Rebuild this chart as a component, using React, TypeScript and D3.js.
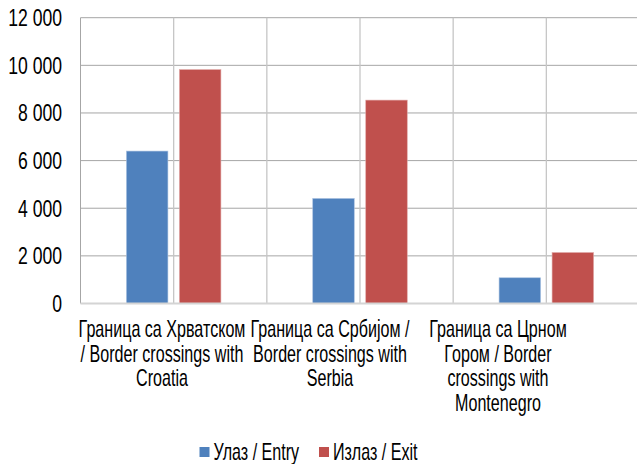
import React, { useEffect, useRef } from "react";
import * as d3 from "d3";

const categories = ["croatia", "serbia", "montenegro"];
const categoryLines = [
    ["Граница са Хрватском", "/ Border crossings with", "Croatia"],
    ["Граница са Србијом /", "Border crossings with", "Serbia"],
    ["Граница са Црном", "Гором / Border", "crossings with", "Montenegro"],
];
const entryValues = [6400, 4410, 1080];
const exitValues = [9820, 8540, 2140];
const seriesNames = ["Улаз / Entry", "Излаз / Exit"];
const seriesColors = ["#4f81bd", "#c0504d"];
const yTicks = [0, 2000, 4000, 6000, 8000, 10000, 12000];

// no narrow font installed, so squeeze Liberation Sans like Arial Narrow
const FONT = "'Liberation Sans', Arial, sans-serif";
const NARROW = 0.7;
const NARROW_NUM = 0.765;
const FS = 23;

const formatTick = (n: number): string => n.toString().replace(/\B(?=(\d{3})+(?!\d))/g, " ");

const App = () => {
    const svgRef = useRef(null);

    useEffect(() => {
        const width = 637;
        const height = 464;
        const left = 80.5;
        const right = 639.5;
        const top = 17.7;
        const bottom = 303.5;

        const svg = d3.select(svgRef.current);
        svg.selectAll("*").remove();

        const x = d3.scaleBand<string>().domain(categories).range([left, right]);
        const y = d3.scaleLinear().domain([0, 12000]).range([bottom, top]);
        // labels sit a bit left of the bands in the reference
        const xLabel = d3.scaleBand<string>().domain(categories).range([78, 582]);

        // horizontal gridlines
        svg.append("g")
            .selectAll("line")
            .data(yTicks.filter((t) => t > 0))
            .enter()
            .append("line")
            .attr("x1", left)
            .attr("x2", right)
            .attr("y1", (d) => y(d))
            .attr("y2", (d) => y(d))
            .attr("stroke", "#a6a6a6")
            .attr("stroke-width", 1);

        // vertical gridlines: band edges and band centers
        const vLines: number[] = [];
        categories.forEach((c) => {
            vLines.push(x(c)! + x.bandwidth() / 2);
            vLines.push(x(c)! + x.bandwidth());
        });
        svg.append("g")
            .selectAll("line")
            .data(vLines)
            .enter()
            .append("line")
            .attr("x1", (d) => d)
            .attr("x2", (d) => d)
            .attr("y1", top)
            .attr("y2", bottom)
            .attr("stroke", "#c6c6c6")
            .attr("stroke-width", 1.3);

        svg.append("line")
            .attr("x1", left)
            .attr("x2", left)
            .attr("y1", top)
            .attr("y2", bottom)
            .attr("stroke", "#a6a6a6")
            .attr("stroke-width", 1);

        // bars
        const barW = 41.5;
        const offset = 26.5;
        const series = [entryValues, exitValues];
        series.forEach((vals, si) => {
            svg.append("g")
                .selectAll("rect")
                .data(vals)
                .enter()
                .append("rect")
                .attr("x", (_d, i) => x(categories[i])! + x.bandwidth() / 2 + (si === 0 ? -offset : offset) - barW / 2)
                .attr("y", (d) => y(d))
                .attr("width", barW)
                .attr("height", (d) => bottom - y(d))
                .attr("fill", seriesColors[si])
                .attr("stroke", si === 0 ? "#a8c0e0" : "#e0a8a6")
                .attr("stroke-width", 0.6);
        });

        // bottom axis
        svg.append("line")
            .attr("x1", left)
            .attr("x2", right)
            .attr("y1", bottom)
            .attr("y2", bottom)
            .attr("stroke", "#d4d4d4")
            .attr("stroke-width", 2);

        // y tick labels
        svg.append("g")
            .selectAll("text")
            .data(yTicks)
            .enter()
            .append("text")
            .attr("transform", (d) => `translate(62, ${y(d)}) scale(${NARROW_NUM}, 1)`)
            .attr("dy", "0.36em")
            .attr("text-anchor", "end")
            .attr("font-family", FONT)
            .attr("font-size", FS)
            .attr("fill", "#000")
            .text((d) => formatTick(d));

        // category labels
        const lab = svg.append("g")
            .selectAll("text")
            .data(categories)
            .enter()
            .append("text")
            .attr("transform", (c) => `translate(${xLabel(c)! + xLabel.bandwidth() / 2}, 0) scale(${NARROW}, 1)`)
            .attr("text-anchor", "middle")
            .attr("font-family", FONT)
            .attr("font-size", FS)
            .attr("fill", "#000");
        lab.each(function (_c, i) {
            const t = d3.select(this);
            categoryLines[i].forEach((line, li) => {
                t.append("tspan")
                    .attr("x", 0)
                    .attr("y", 337.5 + li * 24.4)
                    .text(line);
            });
        });

        // legend
        const legendX = [199.5, 319];
        const leg = svg.append("g")
            .selectAll("g")
            .data(seriesNames)
            .enter()
            .append("g")
            .attr("transform", (_d, i) => `translate(${legendX[i]}, 452)`);
        leg.append("rect")
            .attr("x", 0)
            .attr("y", -5)
            .attr("width", 10)
            .attr("height", 10)
            .attr("fill", (_d, i) => seriesColors[i]);
        leg.append("text")
            .attr("transform", `translate(14, 0) scale(${NARROW}, 1)`)
            .attr("dy", "0.36em")
            .attr("font-family", FONT)
            .attr("font-size", FS)
            .attr("fill", "#000")
            .text((d) => d);

        svg.attr("width", width).attr("height", height);
    }, []);

    return (
        <div style={{ position: "fixed", left: 0, top: 0, width: 637, height: 464, overflow: "hidden", background: "#fff" }}>
            <svg ref={svgRef} style={{ display: "block" }}></svg>
        </div>
    );
};

export default App;
